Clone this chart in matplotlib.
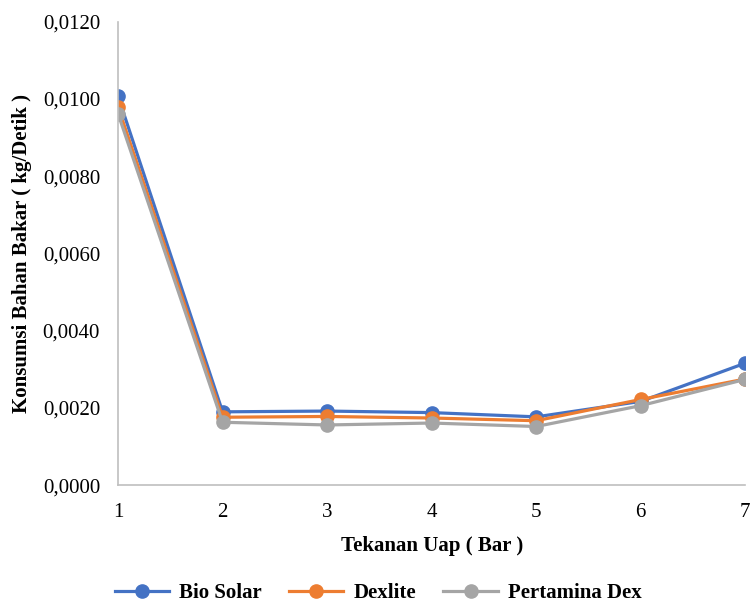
import matplotlib.pyplot as plt
from matplotlib.ticker import FuncFormatter

plt.rcParams['font.family'] = ['Liberation Serif', 'DejaVu Serif']

tekanan = [1, 2, 3, 4, 5, 6, 7]
bio_solar = [0.01007, 0.00190, 0.00192, 0.00188, 0.00177, 0.00217, 0.00316]
dexlite = [0.00979, 0.00176, 0.00178, 0.00174, 0.00167, 0.00222, 0.00275]
pertamina_dex = [0.00962, 0.00163, 0.00156, 0.00161, 0.00152, 0.00206, 0.00274]

fig = plt.figure(figsize=(7.52, 6.05), dpi=100)
ax = fig.add_axes([0.157, 0.198, 0.834, 0.766])

ax.plot(tekanan, bio_solar, color='#4472C4', lw=2.3, marker='o', ms=9.5, label='Bio Solar')
ax.plot(tekanan, dexlite, color='#ED7D31', lw=2.3, marker='o', ms=9.5, label='Dexlite')
ax.plot(tekanan, pertamina_dex, color='#A5A5A5', lw=2.3, marker='o', ms=9.5, label='Pertamina Dex')

ax.set_xlim(1, 7)
ax.set_ylim(0, 0.012)
ax.set_yticks([0, 0.002, 0.004, 0.006, 0.008, 0.010, 0.012])
ax.yaxis.set_major_formatter(FuncFormatter(lambda v, p: f'{v:.4f}'.replace('.', ',')))

for s in ['top', 'right']:
    ax.spines[s].set_visible(False)
for s in ['left', 'bottom']:
    ax.spines[s].set_color('#BFBFBF')
    ax.spines[s].set_linewidth(1.2)
ax.tick_params(length=0, labelsize=15)
ax.tick_params(axis='y', pad=13)
ax.tick_params(axis='x', pad=13)

ax.set_xlabel('Tekanan Uap ( Bar )', fontsize=15, fontweight='bold', labelpad=10)
ax.set_ylabel('Konsumsi Bahan Bakar ( kg/Detik )', fontsize=15, fontweight='bold', labelpad=8)

# legend along the bottom edge
fig.legend(loc='center', bbox_to_anchor=(0.503, 0.02), ncol=3, frameon=False,
           prop={'weight': 'bold', 'size': 15}, handlelength=2.6, columnspacing=1.3,
           handletextpad=0.5, borderpad=0.1)

fig.savefig('out.png', dpi=100)
